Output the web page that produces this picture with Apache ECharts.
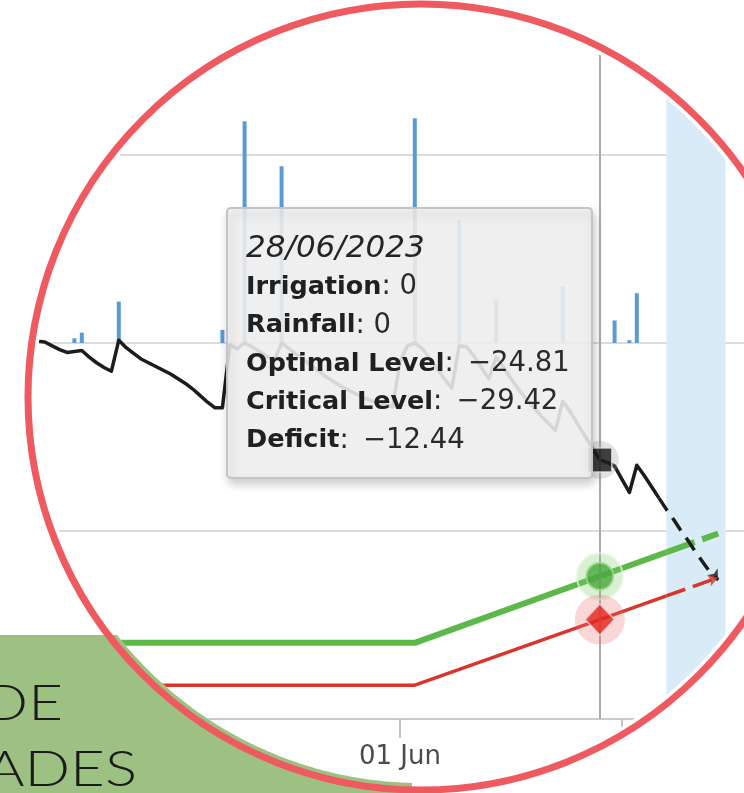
<!DOCTYPE html>
<html><head><meta charset="utf-8">
<script src="https://cdn.jsdelivr.net/npm/echarts@6.0.0/dist/echarts.min.js"></script>
<style>html,body{margin:0;padding:0;background:#fff}#c{width:744px;height:793px}</style>
</head><body><div id="c"></div>
<script>
// ---------- categories ----------
const firstDay = [2023, 3, 10];   // 10 Apr 2023
const dayCount = 102;             // to 20 Jul 2023
const monthNames = ['Jan','Feb','Mar','Apr','May','Jun','Jul','Aug','Sep','Oct','Nov','Dec'];
const dates = [];
for (let i = 0; i < dayCount; i++) {
  dates.push(new Date(Date.UTC(firstDay[0], firstDay[1], firstDay[2] + i)).toISOString().slice(0, 10));
}

// ---------- rainfall bars ----------
const rainDates  = ['2023-04-18','2023-04-19','2023-04-24','2023-05-08','2023-05-11','2023-05-16','2023-06-03','2023-06-09','2023-06-14','2023-06-23','2023-06-30','2023-07-02','2023-07-03'];
const rainValues = [0.5, 1.1, 4.4, 1.4, 23.6, 18.8, 23.9, 13.1, 4.6, 6.0, 2.4, 0.3, 5.3];

// ---------- deficit (daily, observed) ----------
const deficitStart = '2023-04-12';
const deficitValues = [
  0.3, 0.2, 0.1, -0.3, -0.7, -1.0, -0.9, -0.8, -1.5, -2.1,
  -2.6, -3.0, 0.3, -0.5, -1.1, -1.7, -2.1, -2.5, -2.9, -3.3,
  -3.8, -4.3, -4.9, -5.6, -6.3, -6.9, -6.9, -0.2, -0.6, 0.0,
  -0.4, -0.9, -1.4, -1.9, 0.0, -0.6, -1.2, -1.8, -2.4, -3.0,
  -3.6, -4.1, -4.6, -5.0, -5.4, -5.8, -6.1, -6.4, -6.6, -6.8,
  -2.0, -0.3, 0.0, -0.6, -1.6, -2.7, -3.8, -4.8, -0.3, -0.4,
  -1.4, -2.6, -3.8, -1.5, -2.6, -3.8, -4.9, -5.9, -6.8, -7.7,
  -8.5, -9.3, -6.2, -7.3, -8.6, -9.9, -11.2, -12.44, -12.7, -13.1,
  -14.5, -15.9, -13.0, -14.1, -15.3, -16.5
];
// ---------- deficit (forecast) ----------
const deficitForecastStart = '2023-07-06';
const deficitForecastValues = [-16.5, -17.7, -18.8, -20.0, -21.1, -22.3, -23.4, -24.5, -25.2];

// ---------- optimal / critical levels ----------
const levelDates          = ['2023-04-10', '2023-06-03', '2023-06-28', '2023-07-07'];
const optimalValues       = [-31.9, -31.9, -24.81, -22.26];
const criticalValues      = [-36.4, -36.4, -29.42, -26.91];
const forecastDates       = ['2023-07-07', '2023-07-14'];
const optimalForecast     = [-22.26, -20.27];
const criticalForecast    = [-26.91, -24.95];

// ---------- forecast band ----------
const bandStart = '2023-07-07', bandEnd = '2023-07-15';
const bandTop = 26.2;

// ---------- tooltip values ----------
const tipDateISO = '2023-06-28';
const tipDateLabel = '28/06/2023';
const tipIrrigation = 0;
const tipRainfall = 0;
const tipOptimal = -24.81;
const tipCritical = -29.42;
const tipDeficit = -12.44;
const pointerRange = [40, -40];

// ---------- helpers ----------
const pairsFromStart = (start, vals) => { const k = dates.indexOf(start); return vals.map((v, j) => [dates[k + j], v]); };
const zip = (xs, ys) => xs.map((x, j) => [x, ys[j]]);
const idx = d => dates.indexOf(d);
const isMonthStart = (i, val) => String(val).slice(8) === '01';
const fmtNum = v => (v < 0 ? '\u2009\u2212' : '') + Math.abs(v);
const lastOf = a => a[a.length - 1];

// ---------- decoration geometry ----------
const CX = 421, CY = 397, HOLE = 386, RING = 393;
const greenTop = 635, greenRight = 412;
function greenPolygon() {
  const pts = [[-10, greenTop]];
  const a1 = Math.atan2(greenTop - CY, -Math.sqrt(HOLE * HOLE - (greenTop - CY) ** 2));
  const a2 = Math.atan2(Math.sqrt(HOLE * HOLE - (greenRight - CX) ** 2), greenRight - CX);
  const n = 60;
  for (let k = 0; k <= n; k++) {
    const a = a1 + (a2 - a1) * k / n;
    pts.push([CX + HOLE * Math.cos(a), CY + HOLE * Math.sin(a)]);
  }
  pts.push([greenRight, 805], [-10, 805]);
  return pts;
}

const tipText =
  '{d|' + tipDateLabel + '}\n' +
  '{b|Irrigation}{r|: ' + fmtNum(tipIrrigation) + '}\n' +
  '{b|Rainfall}{r|: ' + fmtNum(tipRainfall) + '}\n' +
  '{b|Optimal Level}{r|: ' + fmtNum(tipOptimal) + '}\n' +
  '{b|Critical Level}{r|: ' + fmtNum(tipCritical) + '}\n' +
  '{b|Deficit}{r|: ' + fmtNum(tipDeficit) + '}';

const LH = 38.3;
const chart = echarts.init(document.getElementById('c'), null, {renderer: 'canvas'});
chart.setOption({
  animation: false,
  backgroundColor: '#ffffff',
  grid: {left: 15.2, width: 747.4, top: -33, height: 752, containLabel: false, outerBoundsMode: 'none'},
  xAxis: {
    type: 'category', data: dates, boundaryGap: false,
    axisLine: {onZero: false, lineStyle: {color: '#c9c9c9', width: 2}},
    axisTick: {interval: isMonthStart, length: 19, lineStyle: {color: '#c2c2c2', width: 2}},
    axisLabel: {interval: isMonthStart, margin: 25, fontSize: 26, color: '#4a4a4a', fontFamily: 'DejaVu Sans',
      formatter: v => v.slice(8) + ' ' + monthNames[+v.slice(5, 7) - 1]},
    splitLine: {show: false}
  },
  yAxis: {
    type: 'value', min: -40, max: 40, interval: 20,
    axisLine: {show: false}, axisTick: {show: false}, axisLabel: {show: false},
    splitLine: {lineStyle: {color: '#dedad7', width: 2}}
  },
  series: [
    {name: 'Rainfall', type: 'bar', barWidth: 4, z: 2,
     itemStyle: {color: '#5b9bd5'},
     data: zip(rainDates, rainValues)},
    {name: 'Deficit', type: 'line', symbol: 'none', z: 4,
     lineStyle: {color: '#1c1c1c', width: 3.5, join: 'round'},
     data: pairsFromStart(deficitStart, deficitValues)},
    {name: 'Deficit forecast', type: 'line', symbol: 'none', z: 4,
     lineStyle: {color: '#1c1c1c', width: 3.5, type: [15, 9]},
     data: pairsFromStart(deficitForecastStart, deficitForecastValues)},
    {name: 'Optimal Level', type: 'line', symbol: 'none', z: 3,
     lineStyle: {color: '#5cb848', width: 6},
     data: zip(levelDates, optimalValues)},
    {name: 'Optimal forecast', type: 'line', symbol: 'none', z: 3,
     lineStyle: {color: '#5cb848', width: 6, type: [30, 8]},
     data: zip(forecastDates, optimalForecast)},
    {name: 'Critical Level', type: 'line', symbol: 'none', z: 3,
     lineStyle: {color: '#d9352b', width: 3.5},
     data: zip(levelDates, criticalValues)},
    {name: 'Critical forecast', type: 'line', symbol: 'none', z: 3,
     lineStyle: {color: '#d9352b', width: 3.5, type: [20, 8]},
     data: zip(forecastDates, criticalForecast)},
    {name: 'forecast ends', type: 'scatter', z: 4, clip: false, silent: true,
     data: [
       {value: [dates[idx(deficitForecastStart) + deficitForecastValues.length - 1], lastOf(deficitForecastValues)],
        symbol: 'arrow', symbolSize: [9, 10], symbolRotate: -146, itemStyle: {color: '#1c1c1c'}},
       {value: [lastOf(forecastDates), lastOf(criticalForecast)],
        symbol: 'arrow', symbolSize: [9, 10], symbolRotate: -71, itemStyle: {color: '#d9352b'}}
     ]},
    {name: 'halo', type: 'scatter', z: 5, clip: false, silent: true,
     data: [
       {value: [tipDateISO, tipDeficit], symbol: 'circle', symbolSize: 38, itemStyle: {color: 'rgba(150,150,150,0.35)'}},
       {value: [tipDateISO, tipOptimal], symbol: 'circle', symbolSize: 46, itemStyle: {color: 'rgba(120,200,100,0.35)', borderColor: 'rgba(230,245,220,0.9)', borderWidth: 2}},
       {value: [tipDateISO, tipCritical], symbol: 'circle', symbolSize: 50, itemStyle: {color: 'rgba(235,110,110,0.35)'}}
     ],
     markArea: {silent: true, itemStyle: {color: '#d9ebf6', opacity: 1}, z: 1,
       data: [[{coord: [idx(bandStart), bandTop]}, {coord: [idx(bandEnd), -40]}]]},
     markLine: {silent: true, symbol: 'none', label: {show: false},
       lineStyle: {color: '#ababab', width: 2, type: 'solid', opacity: 1},
       data: [[{coord: [idx(tipDateISO), pointerRange[0]]}, {coord: [idx(tipDateISO), pointerRange[1]]}]]}},
    {name: 'markers', type: 'scatter', z: 6, clip: false, silent: true,
     data: [
       {value: [tipDateISO, tipDeficit], symbol: 'rect', symbolSize: 24, itemStyle: {color: '#151515', borderColor: '#e8e8e8', borderWidth: 1.5}},
       {value: [tipDateISO, tipOptimal], symbol: 'circle', symbolSize: 27, itemStyle: {color: '#46a838', borderColor: '#a6d996', borderWidth: 2}},
       {value: [tipDateISO, tipCritical], symbol: 'diamond', symbolSize: [29, 31], itemStyle: {color: '#e2261d', borderColor: '#f6d0d0', borderWidth: 1.5}}
     ]}
  ],
  graphic: [
    {type: 'group', x: 227, y: 208, z: 50, children: [
      {type: 'rect', z: 50, shape: {x: 0, y: 0, width: 365, height: 270, r: 4},
       style: {fill: 'rgba(244,244,244,0.87)', stroke: '#c4c4c4', lineWidth: 2,
               shadowBlur: 10, shadowOffsetX: 2, shadowOffsetY: 5, shadowColor: 'rgba(0,0,0,0.22)'}},
      {type: 'text', z: 51, x: 19, y: 249 - 208 - LH / 2,
       style: {text: tipText, fill: '#242424', align: 'left', verticalAlign: 'top', fontFamily: 'DejaVu Sans',
         rich: {
           d: {fontStyle: 'italic', fontSize: 31, lineHeight: LH, fontFamily: 'DejaVu Sans', fill: '#242424'},
           b: {fontWeight: 'bold', fontSize: 25.5, lineHeight: LH, fontFamily: 'DejaVu Sans', fill: '#202020'},
           r: {fontSize: 27.5, lineHeight: LH, fontFamily: 'DejaVu Sans', fill: '#2a2a2a'}
         }}}
    ]},
    {type: 'ring', z: 100, silent: true, shape: {cx: CX, cy: CY, r: 1300, r0: HOLE}, style: {fill: '#ffffff'}},
    {type: 'polygon', z: 101, silent: true, shape: {points: greenPolygon()}, style: {fill: '#9dc183'}},
    {type: 'circle', z: 102, silent: true, shape: {cx: CX, cy: CY, r: RING}, style: {fill: 'none', stroke: '#ee5a60', lineWidth: 7}},
    {type: 'text', z: 103, x: 63, y: 704, scaleX: 1.2, style: {text: 'DE', fontFamily: 'Lato', fontWeight: 300, fontSize: 50, fill: '#1b1b1b', align: 'right', verticalAlign: 'middle'}},
    {type: 'text', z: 103, x: 137, y: 770, scaleX: 1.2, style: {text: 'ADES', fontFamily: 'Lato', fontWeight: 300, fontSize: 50, fill: '#1b1b1b', align: 'right', verticalAlign: 'middle'}}
  ]
});
</script>
</body></html>
